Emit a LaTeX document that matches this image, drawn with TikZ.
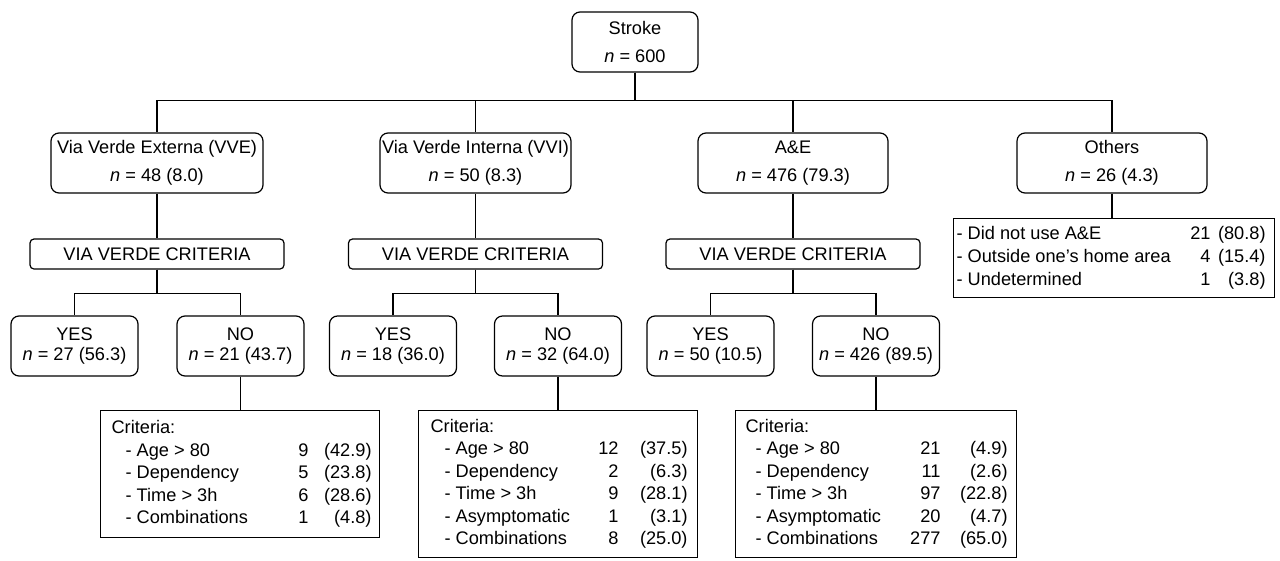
\documentclass[tikz,border=0pt]{standalone}
\usepackage{fontspec}
\usepackage{array}
\setmainfont{Liberation Sans}

\begin{document}
\begin{tikzpicture}[x=1pt,y=-1pt,line width=1.2pt,
    box/.style={draw,rounded corners=8pt,minimum height=60pt,inner sep=0pt,align=center,font=\fontsize{18.2}{28}\selectfont},
    answer/.style={box,minimum width=127pt,font=\fontsize{18.2}{20}\selectfont},
    critbox/.style={draw,rounded corners=4pt,minimum width=254pt,minimum height=30pt,inner sep=0pt,font=\fontsize{18.2}{22}\selectfont},
    listbox/.style={draw,anchor=north west,inner sep=0pt,font=\fontsize{18.2}{22.5}\selectfont}]
  \useasboundingbox (0,0) rectangle (1280,560);

  \node[box,minimum width=126pt] (stroke) at (635,42) {Stroke\\\textit{n} = 600};

  \node[box,minimum width=212pt] (vve) at (157,163) {Via Verde Externa (VVE)\\\textit{n} = 48 (8.0)};
  \node[box,minimum width=191pt] (vvi) at (475.5,163) {Via Verde Interna (VVI)\\\textit{n} = 50 (8.3)};
  \node[box,minimum width=190pt] (ae) at (793,163) {A\&E\\\textit{n} = 476 (79.3)};
  \node[box,minimum width=190pt] (others) at (1112,163) {Others\\\textit{n} = 26 (4.3)};

  \node[critbox] (vvecrit) at (157,254) {VIA VERDE CRITERIA};
  \node[critbox] (vvicrit) at (475.5,254) {VIA VERDE CRITERIA};
  \node[critbox] (aecrit) at (793,254) {VIA VERDE CRITERIA};

  \node[answer] (vveyes) at (74.5,346) {YES\\\textit{n} = 27 (56.3)};
  \node[answer] (vveno) at (240.5,346) {NO\\\textit{n} = 21 (43.7)};
  \node[answer] (vviyes) at (393,346) {YES\\\textit{n} = 18 (36.0)};
  \node[answer] (vvino) at (558,346) {NO\\\textit{n} = 32 (64.0)};
  \node[answer] (aeyes) at (710.5,346) {YES\\\textit{n} = 50 (10.5)};
  \node[answer] (aeno) at (876,346) {NO\\\textit{n} = 426 (89.5)};

  \node[listbox,minimum width=279pt,minimum height=127pt] (vvelist) at (100,410) {%
    \begin{tabular}{@{\hspace{11pt}}p{157pt}@{}>{\raggedleft\arraybackslash}p{40pt}@{}>{\raggedleft\arraybackslash}p{63pt}@{\hspace{8pt}}}
      Criteria: & & \\
      \hspace*{14pt}- Age > 80 & 9 & (42.9) \\
      \hspace*{14pt}- Dependency & 5 & (23.8) \\
      \hspace*{14pt}- Time > 3h & 6 & (28.6) \\
      \hspace*{14pt}- Combinations & 1 & (4.8) \\
    \end{tabular}};
  \node[listbox,minimum width=279pt,minimum height=147pt] (vvilist) at (418,410) {%
    \begin{tabular}{@{\hspace{12pt}}p{148pt}@{}>{\raggedleft\arraybackslash}p{40pt}@{}>{\raggedleft\arraybackslash}p{69pt}@{\hspace{10pt}}}
      Criteria: & & \\
      \hspace*{14pt}- Age > 80 & 12 & (37.5) \\
      \hspace*{14pt}- Dependency & 2 & (6.3) \\
      \hspace*{14pt}- Time > 3h & 9 & (28.1) \\
      \hspace*{14pt}- Asymptomatic & 1 & (3.1) \\
      \hspace*{14pt}- Combinations & 8 & (25.0) \\
    \end{tabular}};
  \node[listbox,minimum width=281pt,minimum height=147pt] (aelist) at (735,410) {%
    \begin{tabular}{@{\hspace{10pt}}p{155pt}@{}>{\raggedleft\arraybackslash}p{40pt}@{}>{\raggedleft\arraybackslash}p{67pt}@{\hspace{9pt}}}
      Criteria: & & \\
      \hspace*{10pt}- Age > 80 & 21 & (4.9) \\
      \hspace*{10pt}- Dependency & 11 & (2.6) \\
      \hspace*{10pt}- Time > 3h & 97 & (22.8) \\
      \hspace*{10pt}- Asymptomatic & 20 & (4.7) \\
      \hspace*{10pt}- Combinations & 277 & (65.0) \\
    \end{tabular}};
  \node[listbox,minimum width=321pt,minimum height=79pt,font=\fontsize{18.2}{23}\selectfont] (otherslist) at (953,218) {%
    \begin{tabular}{@{\hspace{3pt}}p{217pt}@{}>{\raggedleft\arraybackslash}p{37pt}@{}>{\raggedleft\arraybackslash}p{55pt}@{\hspace{9pt}}}
      - Did not use A\&E & 21 & (80.8) \\
      - Outside one's home area & 4 & (15.4) \\
      - Undetermined & 1 & (3.8) \\
    \end{tabular}};

  \foreach \c in {vve,vvi,ae,others}
    \draw (stroke.south) -- ++(0,28) -| (\c.north);
  \foreach \c in {vve,vvi,ae} {
    \draw (\c) -- (\c crit);
    \draw (\c crit.south) -- ++(0,24) -| (\c yes.north);
    \draw (\c crit.south) -- ++(0,24) -| (\c no.north);
    \draw (\c no.south) -- (\c no.south |- \c list.north);
  }
  \draw (others) -- (others.south |- otherslist.north);
\end{tikzpicture}
\end{document}
